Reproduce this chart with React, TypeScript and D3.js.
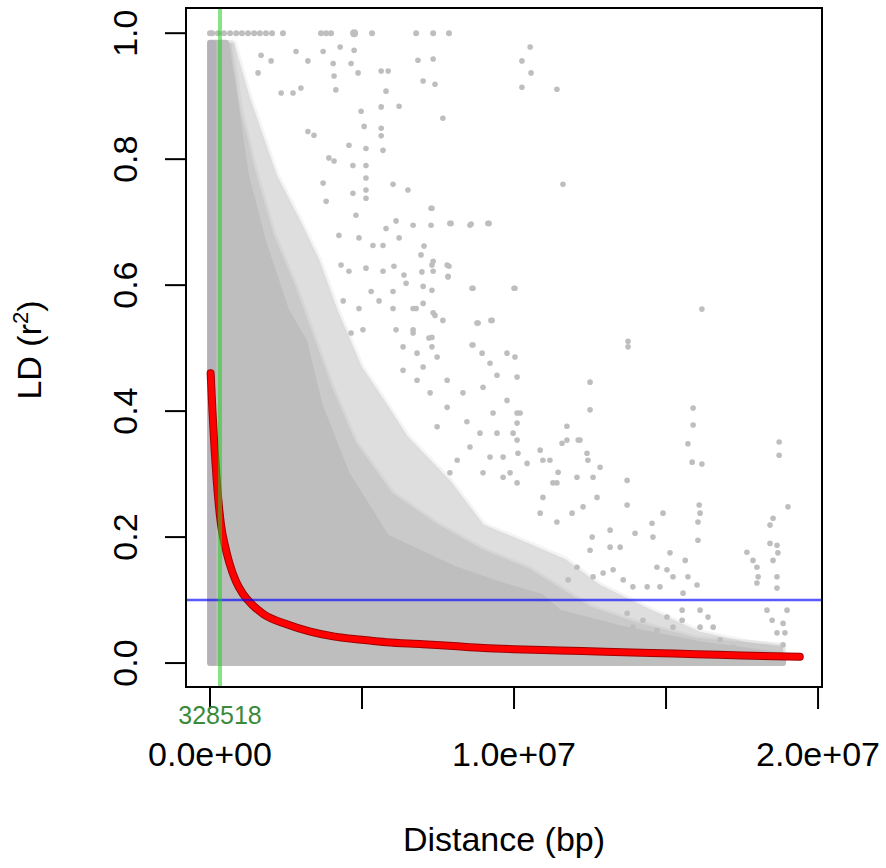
import React from "react";
import * as d3 from "d3";

const W = 886;
const H = 868;
const MB = 1e6;

// ---- axis / annotation values ----
const yTicks = [0, 0.2, 0.4, 0.6, 0.8, 1.0];
const yTickLabels = ["0.0", "0.2", "0.4", "0.6", "0.8", "1.0"];
const xTicks = [0, 5e6, 1e7, 1.5e7, 2e7];
const xTickLabels = ["0.0e+00", "", "1.0e+07", "", "2.0e+07"];
const decayDistance = 328518;
const decayLabel = "328518";
const thresholdR2 = 0.1;
const xTitle = "Distance (bp)";

// ---- dense point cloud envelopes (distance in Mb, r2) ----
const coreEnvelope: [number, number][] = [
  [0, 0.985], [0.53, 0.985], [0.86, 0.88], [1.18, 0.775], [1.74, 0.67],
  [2.5, 0.56], [3.1, 0.51], [3.6, 0.41], [4.5, 0.3], [5.8, 0.2],
  [8.0, 0.15], [9.5, 0.125], [10.9, 0.105], [11.5, 0.08], [13.5, 0.055],
  [16.1, 0.03], [18.85, 0.012], [18.85, 0],
];
const denseEnvelope: [number, number][] = [
  [0, 0.985], [0.7, 0.985], [1.0, 0.88], [1.5, 0.78], [2.1, 0.68],
  [2.8, 0.6], [3.4, 0.52], [4.0, 0.44], [4.8, 0.35], [6.0, 0.27],
  [7.5, 0.22], [9.0, 0.18], [10.5, 0.15], [11.5, 0.12], [12.5, 0.09],
  [14.0, 0.065], [16.0, 0.04], [18.85, 0.028], [18.85, 0],
];
const fringeEnvelope: [number, number][] = [
  [0, 0.985], [0.8, 0.985], [1.3, 0.9], [2.2, 0.775], [3.0, 0.7],
  [3.6, 0.64], [4.2, 0.56], [5.0, 0.47], [5.7, 0.42], [6.5, 0.36],
  [7.9, 0.29], [9.0, 0.22], [10.5, 0.19], [11.7, 0.165], [12.8, 0.125],
  [14.5, 0.085], [16.1, 0.05], [17.5, 0.035], [18.85, 0.025], [18.85, 0],
];
const nearZeroStrip: [number, number][] = [
  [0, 0.985], [0.12, 0.985], [0.12, 0],
];

// points at r2 = 1 (distance Mb)
const topRowDist = [
  0, 0.07, 0.26, 0.46, 0.66, 0.86, 1.05, 1.25, 1.45, 1.64, 1.84, 2.04,
  2.4, 3.65, 3.82, 3.98, 4.74, 5.33, 6.78, 7.34, 7.86,
];

// scattered points outside the dense cloud (distance Mb, r2)
const outliers: [number, number][] = [
  [2.83, 0.971], [3.72, 0.971], [4.28, 0.978], [4.74, 0.973], [1.68, 0.965],
  [2.01, 0.956], [3.22, 0.956], [4.05, 0.952], [4.64, 0.952], [6.84, 0.957],
  [7.34, 0.959], [1.58, 0.937], [4.08, 0.932], [4.87, 0.937], [5.63, 0.94],
  [5.86, 0.94], [2.99, 0.913], [4.14, 0.91], [5.79, 0.908], [7.01, 0.924],
  [7.4, 0.919], [2.34, 0.905], [2.73, 0.905], [4.97, 0.876], [5.63, 0.883],
  [6.22, 0.884], [7.66, 0.865], [5.07, 0.852], [5.63, 0.849], [5.63, 0.837],
  [3.22, 0.844], [3.42, 0.838], [4.57, 0.822], [5.13, 0.817], [5.69, 0.814],
  [3.91, 0.802], [4.08, 0.797], [4.7, 0.79], [5.13, 0.79], [5.13, 0.77],
  [5.13, 0.751], [5.13, 0.738], [6.02, 0.76], [6.51, 0.751], [3.72, 0.762],
  [3.82, 0.733], [4.7, 0.746], [7.27, 0.722], [4.8, 0.711], [6.12, 0.702],
  [6.68, 0.695], [7.27, 0.695], [7.93, 0.698], [8.59, 0.697], [9.18, 0.698],
  [5.79, 0.69], [6.22, 0.675], [4.24, 0.679], [4.9, 0.675], [5.36, 0.663],
  [5.69, 0.663], [7.04, 0.662], [6.94, 0.648], [7.34, 0.638], [7.86, 0.63],
  [4.31, 0.632], [4.57, 0.622], [5.13, 0.627], [5.69, 0.622], [6.05, 0.63],
  [6.38, 0.616], [7.34, 0.622], [7.83, 0.614], [7.01, 0.598], [8.65, 0.595],
  [10.0, 0.595], [5.3, 0.59], [6.02, 0.59], [6.45, 0.603], [4.38, 0.575],
  [4.9, 0.563], [5.56, 0.575], [6.02, 0.563], [6.78, 0.563], [7.34, 0.556],
  [7.66, 0.544], [8.82, 0.54], [9.24, 0.544], [4.64, 0.524], [5.03, 0.529],
  [6.12, 0.529], [6.68, 0.524], [7.2, 0.516], [8.65, 0.505],
  [10.53, 0.978], [10.26, 0.956], [10.56, 0.937], [10.26, 0.914], [11.41, 0.911],
  [11.61, 0.76], [16.18, 0.562], [13.75, 0.511],
  [13.75, 0.502], [9.77, 0.492], [10.03, 0.486], [12.5, 0.446], [12.5, 0.402],
  [15.89, 0.405], [15.89, 0.378], [11.74, 0.376], [15.72, 0.348], [15.86, 0.319],
  [16.18, 0.316], [18.72, 0.351], [18.72, 0.33], [19.01, 0.248], [18.52, 0.23],
  [18.42, 0.219], [16.09, 0.251], [16.12, 0.238], [16.05, 0.224], [16.05, 0.195],
  [13.72, 0.29], [13.72, 0.251], [14.9, 0.238], [14.54, 0.222], [13.98, 0.206],
  [14.57, 0.2], [17.66, 0.176], [18.42, 0.19], [18.65, 0.187], [18.68, 0.175],
  [18.52, 0.163], [17.86, 0.163], [17.99, 0.152], [18.03, 0.137], [18.65, 0.137],
  [17.99, 0.127], [18.65, 0.119], [18.32, 0.084], [18.49, 0.068], [18.98, 0.084],
  [18.85, 0.063], [18.65, 0.048], [18.91, 0.048], [18.85, 0.029], [15.63, 0.163],
  [15.13, 0.175], [15.03, 0.148], [14.7, 0.152], [15.23, 0.137], [15.72, 0.137],
  [16.02, 0.124], [15.56, 0.111], [16.12, 0.084], [16.38, 0.073], [16.55, 0.057],
  [15.53, 0.084], [15.53, 0.068], [15.03, 0.073], [14.7, 0.052], [14.24, 0.068],
  [13.91, 0.057], [13.72, 0.079], [15.23, 0.057], [16.12, 0.057], [16.78, 0.037],
  [17.2, 0.025], [12.27, 0.248], [12.73, 0.263], [12.83, 0.311], [12.43, 0.322],
  [11.74, 0.354], [12.11, 0.354], [11.58, 0.349], [10.86, 0.338], [11.18, 0.322],
  [10.2, 0.397], [10.1, 0.381], [9.97, 0.365], [10.13, 0.333], [9.87, 0.302],
  [11.45, 0.303], [11.28, 0.286], [10.95, 0.263], [10.86, 0.238], [11.41, 0.224],
  [11.91, 0.238], [12.57, 0.2], [13.16, 0.184], [13.49, 0.184], [13.16, 0.211],
  [12.5, 0.179], [12.07, 0.152], [12.6, 0.137], [12.93, 0.143], [13.59, 0.132],
  [13.91, 0.121], [14.38, 0.121], [14.8, 0.121], [13.26, 0.148], [11.78, 0.132],
  [7.3, 0.722], [7.89, 0.698], [8.55, 0.695], [9.14, 0.698], [8.62, 0.595],
  [10.03, 0.595], [8.78, 0.54], [9.28, 0.544], [8.62, 0.505], [8.95, 0.492],
  [9.21, 0.476], [8.98, 0.438], [9.44, 0.457], [10.1, 0.454], [8.32, 0.429],
  [9.77, 0.417], [9.31, 0.397], [10.1, 0.397], [8.45, 0.383], [8.88, 0.365],
  [9.44, 0.365], [10.1, 0.354], [12.17, 0.354], [12.4, 0.333], [10.43, 0.317],
  [10.95, 0.322], [9.64, 0.327], [9.21, 0.327], [8.55, 0.343], [8.13, 0.322],
  [7.89, 0.302], [8.98, 0.302], [9.64, 0.295], [10.1, 0.286], [11.41, 0.286],
  [12.07, 0.295], [12.6, 0.295], [7.47, 0.375], [7.8, 0.406], [7.3, 0.502],
  [7.47, 0.486], [7.01, 0.47], [7.8, 0.449], [7.83, 0.613], [7.8, 0.632],
  [7.3, 0.632], [6.97, 0.621], [7.3, 0.592], [7.01, 0.571], [6.68, 0.563],
  [7.4, 0.552], [7.3, 0.517], [6.68, 0.529], [6.35, 0.502], [6.81, 0.492],
  [6.35, 0.465], [6.81, 0.449], [7.24, 0.429],
];

// fitted LD decay curve (distance Mb, r2)
const fitCurve: [number, number][] = [
  [0.02, 0.46], [0.08, 0.4], [0.15, 0.34], [0.22, 0.29], [0.36, 0.22],
  [0.5, 0.185], [0.63, 0.16], [0.85, 0.13], [1.08, 0.11], [1.4, 0.092],
  [1.75, 0.078], [2.5, 0.062], [3.3, 0.05], [4.1, 0.042], [5.0, 0.037],
  [5.8, 0.033], [7.0, 0.03], [8.0, 0.027], [9.0, 0.024], [10.0, 0.022],
  [11.5, 0.02], [13.0, 0.018], [14.5, 0.016], [16.0, 0.014], [17.5, 0.012],
  [19.4, 0.01],
];

const FONT = "'Liberation Sans', Arial, Helvetica, sans-serif";
const GRAY = "#bebebe";

export default function App() {
  const x = d3.scaleLinear().domain([-0.79e6, 20.13e6]).range([186, 822]);
  const y = d3.scaleLinear().domain([-0.038, 1.04]).range([687, 8]);

  const area = d3
    .line<[number, number]>()
    .x((d) => x(d[0] * MB))
    .y((d) => y(d[1]));
  const poly = (env: [number, number][]) =>
    (area([[0, 0] as [number, number], ...env]) || "") + "Z";

  const curve = d3
    .line<[number, number]>()
    .x((d) => x(d[0] * MB))
    .y((d) => y(d[1]))
    .curve(d3.curveMonotoneX);
  const curvePath = curve(fitCurve) || "";

  const [x0, x1] = x.range();
  const [yb, yt] = y.range();

  return (
    <svg
      width={W}
      height={H}
      viewBox={`0 0 ${W} ${H}`}
      style={{ position: "absolute", left: 0, top: 0, background: "#fff" }}
      fontFamily={FONT}
    >
      <rect x={0} y={0} width={W} height={H} fill="#fff" />
      <defs>
        <clipPath id="plotClip">
          <rect x={x0} y={yt} width={x1 - x0} height={yb - yt} />
        </clipPath>
      </defs>

      <g clipPath="url(#plotClip)">
        {/* dense cloud */}
        <path d={poly(fringeEnvelope)} fill={GRAY} opacity={0.5} stroke={GRAY} strokeWidth={5} strokeOpacity={0.3} strokeLinejoin="round" />
        <path d={poly(denseEnvelope)} fill={GRAY} opacity={0.6} stroke={GRAY} strokeWidth={5} strokeOpacity={0.4} strokeLinejoin="round" />
        <path d={poly(coreEnvelope)} fill={GRAY} stroke={GRAY} strokeWidth={6} strokeLinejoin="round" />
        <path d={poly(nearZeroStrip)} fill="#b4b1b8" stroke="#b4b1b8" strokeWidth={5} strokeLinejoin="round" />

        {/* scattered points */}
        {outliers.map((p, i) => (
          <circle key={"o" + i} cx={x(p[0] * MB)} cy={y(p[1])} r={2.8} fill={GRAY} />
        ))}
        {topRowDist.map((d, i) => (
          <circle key={"t" + i} cx={x(d * MB)} cy={y(1)} r={i === 16 ? 4 : 3} fill={GRAY} />
        ))}

        {/* fitted curve */}
        <path d={curvePath} fill="none" stroke="#a00000" strokeWidth={8} strokeLinecap="round" strokeLinejoin="round" />
        <path d={curvePath} fill="none" stroke="#ff0000" strokeWidth={6} strokeLinecap="round" strokeLinejoin="round" />

        {/* threshold and decay distance */}
        <line x1={x0} x2={x1} y1={y(thresholdR2)} y2={y(thresholdR2)} stroke="#0000ff" strokeOpacity={0.65} strokeWidth={2.5} />
        <line x1={x(decayDistance)} x2={x(decayDistance)} y1={yt} y2={yb} stroke="#22cc22" strokeOpacity={0.55} strokeWidth={4} />
      </g>

      {/* box */}
      <rect x={x0} y={yt} width={x1 - x0} height={yb - yt} fill="none" stroke="#000" strokeWidth={2} />

      {/* y axis */}
      {yTicks.map((t, i) => (
        <g key={"yt" + i}>
          <line x1={165} x2={x0} y1={y(t)} y2={y(t)} stroke="#000" strokeWidth={2} />
          <text
            transform={`translate(137,${y(t)}) rotate(-90)`}
            textAnchor="middle"
            fontSize={34}
            fill="#000"
          >
            {yTickLabels[i]}
          </text>
        </g>
      ))}

      {/* x axis */}
      {xTicks.map((t, i) => (
        <g key={"xt" + i}>
          <line x1={x(t)} x2={x(t)} y1={yb} y2={709} stroke="#000" strokeWidth={2} />
          {xTickLabels[i] ? (
            <text x={x(t)} y={766} textAnchor="middle" fontSize={34} fill="#000">
              {xTickLabels[i]}
            </text>
          ) : null}
        </g>
      ))}

      {/* decay distance label */}
      <text x={x(decayDistance)} y={724} textAnchor="middle" fontSize={25} fill="#3a8a3a">
        {decayLabel}
      </text>

      {/* titles */}
      <text x={504} y={851} textAnchor="middle" fontSize={34} fill="#000">
        {xTitle}
      </text>
      <text transform="translate(41,350) rotate(-90)" textAnchor="middle" fontSize={34} fill="#000">
        LD (r<tspan dy={-13} fontSize={22}>2</tspan><tspan dy={13}>)</tspan>
      </text>
    </svg>
  );
}
